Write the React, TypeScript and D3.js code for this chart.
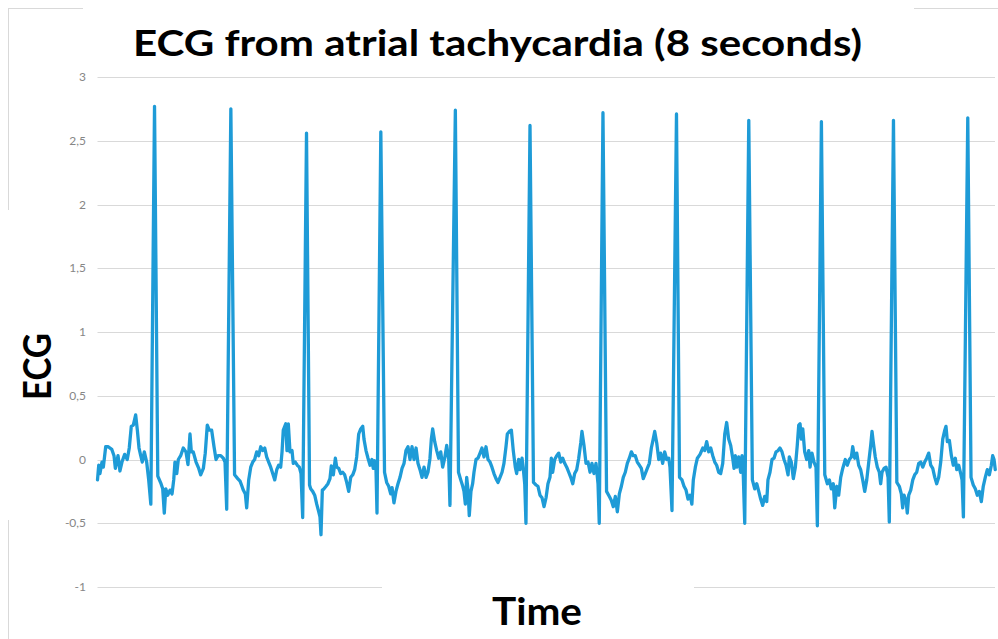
import React, { useEffect, useRef } from "react";
import * as d3 from "d3";

const title = "ECG from atrial tachycardia (8 seconds)";
const xTitle = "Time";
const yTitle = "ECG";
const yTicks = [-1, -0.5, 0, 0.5, 1, 1.5, 2, 2.5, 3];
const timeDomain = [0, 8];
const ecgDomain = [-1, 3];

const stripA: [number, number][] = [
    [0.000, -0.16], [0.011, -0.045], [0.022, -0.11], [0.040, -0.02], [0.052, -0.06], [0.073, 0.10], [0.096, 0.10], [0.127, 0.08],
    [0.147, 0.03], [0.159, -0.07], [0.183, 0.03], [0.200, -0.09], [0.218, -0.02], [0.242, 0.04], [0.265, 0.00], [0.283, 0.09],
    [0.301, 0.26], [0.319, 0.27], [0.340, 0.35], [0.355, 0.23], [0.370, 0.09], [0.385, 0.03], [0.399, -0.02], [0.417, 0.06],
    [0.438, -0.02], [0.456, -0.16], [0.475, -0.35], [0.508, 2.77], [0.537, -0.13], [0.566, -0.19], [0.581, -0.23], [0.595, -0.42],
    [0.608, -0.23], [0.625, -0.28], [0.646, -0.24], [0.664, -0.27], [0.679, -0.16], [0.690, -0.02], [0.706, -0.11], [0.720, 0.00],
    [0.741, 0.03], [0.764, 0.09], [0.788, 0.06], [0.806, -0.04], [0.824, 0.20], [0.836, 0.06], [0.853, 0.06], [0.878, -0.02],
    [0.902, -0.07], [0.919, -0.12], [0.943, -0.07], [0.960, 0.05], [0.978, 0.27], [0.996, 0.23], [1.017, 0.23], [1.038, 0.10],
    [1.056, 0.00], [1.074, 0.03], [1.098, 0.03], [1.121, 0.01], [1.136, -0.02], [1.151, -0.39], [1.188, 2.75], [1.221, -0.12],
    [1.249, -0.15], [1.270, -0.17], [1.287, -0.21], [1.299, -0.24], [1.317, -0.27], [1.329, -0.38], [1.347, -0.16], [1.365, -0.06],
    [1.383, -0.02], [1.400, 0.00], [1.418, 0.06], [1.436, 0.03], [1.454, 0.10], [1.472, 0.07], [1.490, 0.09], [1.507, 0.02],
    [1.525, -0.02], [1.543, -0.06], [1.561, -0.11], [1.579, -0.16], [1.597, -0.08], [1.614, -0.045], [1.632, -0.06], [1.644, 0.06],
    [1.655, 0.23], [1.677, 0.28], [1.688, 0.07], [1.700, 0.28], [1.715, 0.06], [1.733, 0.07], [1.744, -0.03], [1.762, -0.02],
    [1.780, -0.045], [1.798, -0.06], [1.813, -0.11], [1.828, -0.455], [1.862, 2.56], [1.889, -0.20], [1.899, -0.23], [1.917, -0.25],
    [1.935, -0.28], [1.953, -0.35], [1.971, -0.41], [1.982, -0.45], [1.991, -0.59],
];

const stripB: [number, number][] = [
    [2.003, -0.24], [2.018, -0.23], [2.036, -0.21], [2.053, -0.19], [2.071, -0.15], [2.083, -0.05], [2.101, -0.12], [2.119, 0.01],
    [2.131, -0.06], [2.149, -0.07], [2.167, -0.11], [2.184, -0.10], [2.202, -0.12], [2.220, -0.18], [2.238, -0.25], [2.256, -0.14],
    [2.274, -0.12], [2.291, -0.08], [2.309, 0.02], [2.327, 0.20], [2.345, 0.24], [2.363, 0.26], [2.374, 0.16], [2.392, 0.07],
    [2.410, 0.01], [2.428, -0.045], [2.445, 0.00], [2.457, -0.07], [2.470, -0.01], [2.481, -0.08], [2.490, -0.42], [2.524, 2.57],
    [2.557, -0.10], [2.576, -0.18], [2.594, -0.21], [2.612, -0.27], [2.624, -0.22], [2.641, -0.34], [2.659, -0.25], [2.677, -0.19],
    [2.695, -0.14], [2.713, -0.07], [2.731, -0.03], [2.748, 0.07], [2.766, 0.10], [2.784, 0.00], [2.802, 0.10], [2.820, 0.00],
    [2.838, 0.09], [2.855, -0.03], [2.873, -0.08], [2.891, -0.14], [2.909, -0.06], [2.927, -0.14], [2.944, -0.10], [2.962, 0.01],
    [2.974, 0.16], [2.986, 0.24], [3.004, 0.14], [3.022, 0.07], [3.040, 0.01], [3.058, 0.06], [3.075, -0.06], [3.093, 0.01],
    [3.111, 0.11], [3.129, 0.00], [3.140, -0.36], [3.188, 2.74], [3.216, -0.10], [3.236, -0.16], [3.254, -0.21], [3.265, -0.25],
    [3.277, -0.35], [3.289, -0.14], [3.301, -0.24], [3.312, -0.44], [3.327, -0.25], [3.342, -0.19], [3.354, -0.10], [3.372, 0.00],
    [3.390, 0.01], [3.408, 0.05], [3.425, 0.09], [3.443, 0.02], [3.461, 0.10], [3.479, 0.00], [3.497, -0.02], [3.514, -0.06],
    [3.532, -0.11], [3.550, -0.15], [3.568, -0.18], [3.586, -0.14], [3.604, -0.10], [3.621, -0.03], [3.639, 0.10], [3.651, 0.20],
    [3.669, 0.22], [3.687, 0.23], [3.704, 0.07], [3.722, -0.06], [3.734, -0.11], [3.752, 0.00], [3.764, -0.08], [3.782, 0.01],
    [3.793, -0.07], [3.806, -0.19], [3.817, -0.50], [3.853, 2.62], [3.884, -0.18], [3.907, -0.20], [3.924, -0.21], [3.942, -0.28],
    [3.960, -0.30], [3.978, -0.37], [3.996, -0.30],
];

const stripC: [number, number][] = [
    [4.013, -0.19], [4.031, -0.14], [4.043, 0.01], [4.055, -0.10], [4.073, 0.00], [4.091, 0.03], [4.109, 0.05], [4.127, -0.02],
    [4.144, 0.01], [4.162, -0.03], [4.180, -0.06], [4.198, -0.10], [4.216, -0.14], [4.234, -0.19], [4.251, -0.11], [4.269, -0.08],
    [4.287, 0.01], [4.305, 0.13], [4.316, 0.22], [4.334, 0.11], [4.352, -0.03], [4.370, -0.02], [4.388, -0.10], [4.405, -0.03],
    [4.423, -0.11], [4.441, -0.03], [4.459, -0.19], [4.470, -0.50], [4.503, 2.72], [4.535, -0.25], [4.560, -0.29], [4.577, -0.32],
    [4.595, -0.37], [4.613, -0.29], [4.631, -0.41], [4.649, -0.27], [4.667, -0.21], [4.684, -0.14], [4.702, -0.10], [4.720, -0.03],
    [4.738, 0.01], [4.756, 0.06], [4.773, 0.03], [4.791, 0.03], [4.809, -0.02], [4.827, -0.045], [4.845, -0.07], [4.862, -0.15],
    [4.880, -0.11], [4.898, -0.07], [4.916, -0.03], [4.934, 0.09], [4.946, 0.14], [4.964, 0.22], [4.982, 0.13], [5.000, 0.00],
    [5.017, 0.05], [5.035, -0.03], [5.053, 0.06], [5.071, 0.00], [5.089, 0.01], [5.100, -0.06], [5.118, -0.40], [5.158, 2.71],
    [5.185, -0.14], [5.207, -0.16], [5.225, -0.21], [5.243, -0.24], [5.261, -0.31], [5.279, -0.28], [5.295, -0.35], [5.308, -0.16],
    [5.326, -0.06], [5.344, 0.01], [5.368, 0.04], [5.392, 0.09], [5.409, 0.07], [5.427, 0.14], [5.445, 0.06], [5.463, 0.09],
    [5.481, 0.03], [5.499, -0.02], [5.516, -0.045], [5.534, -0.10], [5.552, -0.11], [5.570, -0.03], [5.588, 0.20], [5.605, 0.29],
    [5.623, 0.16], [5.641, 0.11], [5.659, 0.01], [5.671, -0.07], [5.682, 0.03], [5.695, -0.06], [5.712, 0.02], [5.730, -0.10],
    [5.742, 0.03], [5.753, -0.12], [5.766, -0.50], [5.802, 2.66], [5.834, -0.16], [5.855, -0.23], [5.873, -0.19], [5.891, -0.25],
    [5.908, -0.31], [5.926, -0.36], [5.944, -0.29], [5.962, -0.33], [5.973, -0.16], [5.991, -0.10],
];

const stripD: [number, number][] = [
    [6.009, 0.00], [6.027, 0.01], [6.045, 0.06], [6.063, 0.07], [6.080, 0.09], [6.098, 0.06], [6.116, 0.00], [6.134, -0.045],
    [6.152, -0.12], [6.163, 0.02], [6.181, -0.02], [6.199, -0.15], [6.217, -0.06], [6.234, 0.11], [6.247, 0.27], [6.259, 0.28],
    [6.270, 0.16], [6.283, 0.24], [6.300, 0.06], [6.318, 0.00], [6.336, 0.07], [6.348, -0.06], [6.365, 0.05], [6.383, -0.02],
    [6.401, -0.06], [6.413, -0.52], [6.449, 2.65], [6.479, -0.12], [6.502, -0.19], [6.520, -0.16], [6.537, -0.23], [6.555, -0.19],
    [6.568, -0.38], [6.586, -0.21], [6.603, -0.28], [6.621, -0.14], [6.639, -0.07], [6.662, 0.00], [6.680, -0.045], [6.698, 0.00],
    [6.716, 0.02], [6.728, 0.10], [6.746, 0.01], [6.764, 0.05], [6.781, -0.045], [6.799, -0.08], [6.817, -0.16], [6.835, -0.25],
    [6.853, -0.16], [6.871, -0.02], [6.888, 0.11], [6.900, 0.22], [6.912, 0.13], [6.929, 0.02], [6.947, -0.06], [6.965, -0.10],
    [6.977, -0.19], [6.989, -0.10], [7.007, -0.07], [7.025, -0.06], [7.043, -0.14], [7.054, -0.49], [7.091, 2.66], [7.121, -0.18],
    [7.143, -0.21], [7.161, -0.27], [7.173, -0.38], [7.185, -0.28], [7.203, -0.32], [7.214, -0.42], [7.227, -0.28], [7.245, -0.24],
    [7.263, -0.16], [7.280, -0.12], [7.298, -0.10], [7.316, -0.03], [7.334, -0.02], [7.352, -0.06], [7.369, -0.02], [7.387, 0.01],
    [7.405, 0.05], [7.423, -0.045], [7.441, -0.07], [7.459, -0.14], [7.476, -0.19], [7.494, -0.14], [7.512, -0.02], [7.530, 0.16],
    [7.548, 0.23], [7.559, 0.26], [7.571, 0.14], [7.589, 0.15], [7.607, 0.03], [7.624, -0.045], [7.642, 0.01], [7.655, -0.08],
    [7.672, -0.045], [7.690, -0.11], [7.702, -0.16], [7.714, -0.45], [7.753, 2.68], [7.782, -0.14], [7.802, -0.20], [7.820, -0.23],
    [7.838, -0.28], [7.856, -0.25], [7.874, -0.33], [7.891, -0.21], [7.909, -0.14], [7.927, -0.08], [7.945, -0.12], [7.963, -0.045],
    [7.975, 0.03], [7.987, 0.00], [7.998, -0.08],
];

const width = 998;
const height = 639;
const plot = { left: 97.5, right: 995.5, top: 77, bottom: 587 };
const lineColor = "#1e9bd7";
const gridColor = "#d9d9d9";
const font = "Lato, 'Open Sans', sans-serif";

// comma decimals like the original workbook
const fmt = d3.formatLocale({ decimal: ",", thousands: ".", grouping: [3], currency: ["", ""], minus: "-" }).format("~g");

function draw(el: SVGSVGElement) {
    const svg = d3.select(el);
    svg.selectAll("*").remove();

    const x = d3.scaleLinear().domain(timeDomain).range([plot.left, plot.right]);
    const y = d3.scaleLinear().domain(ecgDomain).range([plot.bottom, plot.top]);

    svg.append("rect").attr("width", width).attr("height", height).attr("fill", "white");

    // chart border (partly hidden behind the title boxes)
    svg.append("rect")
        .attr("x", 8.5).attr("y", 8.5)
        .attr("width", width).attr("height", height)
        .attr("fill", "none").attr("stroke", gridColor);

    const grid = svg.append("g");
    grid.selectAll("line")
        .data(yTicks)
        .join("line")
        .attr("x1", plot.left).attr("x2", plot.right - 0.5)
        .attr("y1", (d) => Math.round(y(d)) + 0.5)
        .attr("y2", (d) => Math.round(y(d)) + 0.5)
        .attr("stroke", gridColor)
        .attr("stroke-width", 1);

    svg.append("g")
        .selectAll("text")
        .data(yTicks)
        .join("text")
        .attr("x", 86)
        .attr("y", (d) => y(d))
        .attr("dy", "0.35em")
        .attr("text-anchor", "end")
        .attr("fill", "#868686")
        .style("font", `12px ${font}`)
        .text((d) => fmt(d));

    const line = d3.line<[number, number]>()
        .x((d) => x(d[0]))
        .y((d) => y(d[1]));

    svg.append("path")
        .datum([...stripA, ...stripB, ...stripC, ...stripD])
        .attr("d", line)
        .attr("fill", "none")
        .attr("stroke", lineColor)
        .attr("stroke-width", 3.3)
        .attr("stroke-linejoin", "round")
        .attr("stroke-linecap", "round");

    // title boxes sit on top of border / gridlines
    svg.append("rect").attr("x", 83).attr("y", 0).attr("width", 831).attr("height", 68).attr("fill", "white");
    svg.append("text")
        .attr("x", 133).attr("y", 56)
        .attr("textLength", 729).attr("lengthAdjust", "spacingAndGlyphs")
        .attr("fill", "black")
        .style("font", `bold 37px ${font}`)
        .text(title);

    svg.append("rect").attr("x", 0).attr("y", 210).attr("width", 60).attr("height", 310).attr("fill", "white");
    svg.append("text")
        .attr("transform", "translate(51,366.5) rotate(-90)")
        .attr("text-anchor", "middle")
        .attr("textLength", 67).attr("lengthAdjust", "spacingAndGlyphs")
        .attr("fill", "black")
        .style("font", `bold 38px ${font}`)
        .text(yTitle);

    svg.append("rect").attr("x", 382).attr("y", 575).attr("width", 312).attr("height", 64).attr("fill", "white");
    svg.append("text")
        .attr("x", 537).attr("y", 625)
        .attr("text-anchor", "middle")
        .attr("textLength", 90).attr("lengthAdjust", "spacingAndGlyphs")
        .attr("fill", "black")
        .style("font", `bold 38px ${font}`)
        .text(xTitle);
}

export default function App() {
    const ref = useRef<SVGSVGElement>(null);

    useEffect(() => {
        if (ref.current) draw(ref.current);
    }, []);

    return (
        <svg
            ref={ref}
            width={width}
            height={height}
            style={{ position: "fixed", left: 0, top: 0, display: "block" }}
        />
    );
}
